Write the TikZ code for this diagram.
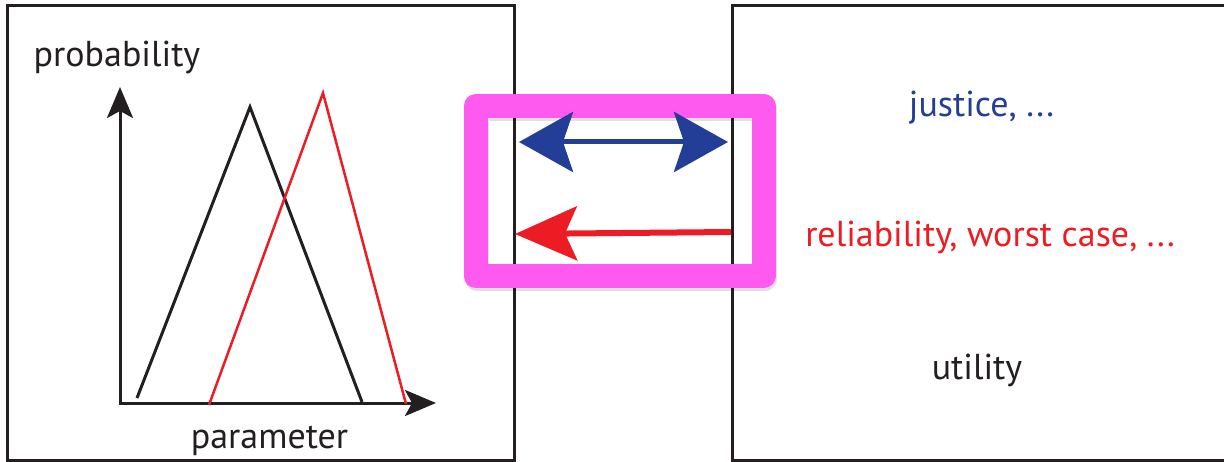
\documentclass[tikz,border=0pt]{standalone}
\usepackage{fontspec}
\setmainfont{PT Sans}
\usetikzlibrary{positioning, arrows.meta}
\definecolor{pinkhl}{RGB}{255,90,240}
\definecolor{navyarr}{RGB}{35,62,150}
\definecolor{redarr}{RGB}{237,28,36}
\definecolor{inkblack}{RGB}{35,31,32}
\begin{document}
\begin{tikzpicture}[x=1pt, y=-1pt, every node/.style={inner sep=0cm, text=inkblack, font=\fontsize{36}{40}\selectfont}]
    \useasboundingbox (0,0) rectangle (1224,462);

    % the two panels
    \draw[line width=3pt, draw=inkblack] (7.5,6) rectangle (514,460);
    \draw[line width=3pt, draw=inkblack] (1224,6) -- (732,6) -- (732,460) -- (1224,460);

    % axes
    \coordinate (ytip) at (120,87);
    \coordinate (origin) at (120,403);
    \coordinate (xtip) at (436,403);
    \path[{Stealth[length=31pt, width=26pt, inset=7pt]}-{Stealth[length=31pt, width=26pt, inset=7pt]}, line width=3pt, draw=inkblack] (ytip) -- (origin) -- (xtip);

    % two distributions
    \draw[line width=3pt, draw=inkblack] (137,398) -- (250,107) -- (362,402);
    \draw[line width=2.5pt, draw=redarr] (209,405) -- (323,93) -- (406,404);

    \node (problabel) [anchor=base] at (117,67){
        probability
    };
    \node (paramlabel) [anchor=base] at (269.5,448){
        parameter
    };
    \node (justlabel) [anchor=base, text=navyarr] at (981.5,117){
        justice, ...
    };
    \node (relilabel) [anchor=base, text=redarr] at (990,247){
        reliability, worst case, ...
    };
    \node (utillabel) [anchor=base] at (977,380){
        utility
    };

    % highlight frame with its shadow
    \node (hlshadow) [draw=black, draw opacity=0.12, line width=24pt, line join=round, minimum width=288pt, minimum height=170pt] at (620.5,194){};
    \node (highlight) [draw=pinkhl, line width=24pt, line join=round, minimum width=288pt, minimum height=170pt] at (619.5,191){};

    \coordinate (blueL) at (519,142);
    \coordinate (blueR) at (728,142);
    \coordinate (redR) at (731,232);
    \coordinate (redL) at (515,234);

    \path[{Stealth[length=54pt, width=60pt, inset=10pt]}-{Stealth[length=54pt, width=60pt, inset=10pt]}, line width=5pt, draw=navyarr] (blueL) -- (blueR);
    \path[-{Stealth[length=62pt, width=54pt, inset=12pt]}, line width=6pt, draw=redarr] (redR) -- (redL);
\end{tikzpicture}
\end{document}
